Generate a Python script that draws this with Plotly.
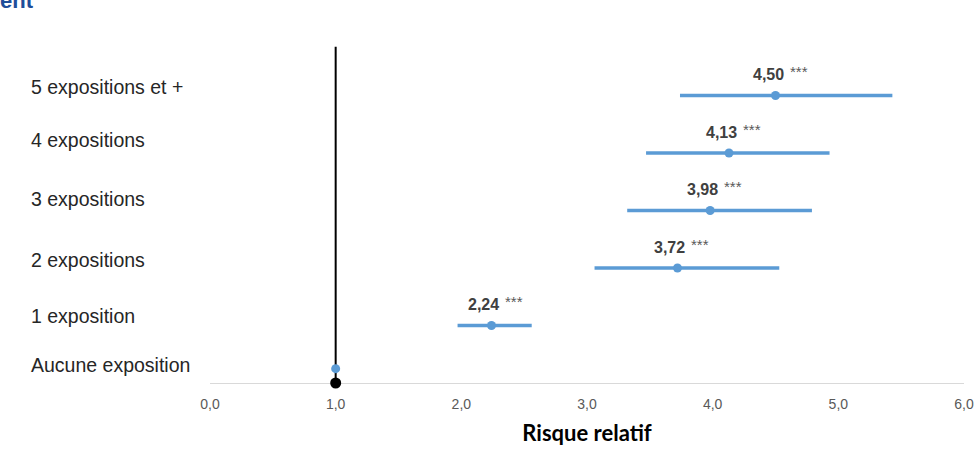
import plotly.graph_objects as go

# Relative risk by number of exposures, with 95% confidence intervals
categories = ["Aucune exposition", "1 exposition", "2 expositions",
              "3 expositions", "4 expositions", "5 expositions et +"]
rr = [1.00, 2.24, 3.72, 3.98, 4.13, 4.50]
ci_low = [1.00, 1.97, 3.06, 3.32, 3.47, 3.74]
ci_high = [1.00, 2.56, 4.53, 4.79, 4.93, 5.43]
signif = ["", "***", "***", "***", "***", "***"]
x_ticks = [0, 1, 2, 3, 4, 5, 6]

# vertical placement of each row and of its text label
row_y = [0.25, 1, 2, 3, 4, 5]
label_y = [0.31, 1.16, 2.14, 3.20, 4.23, 5.15]

W, H = 976, 462
BLUE = "#5B9BD5"

fig = go.Figure()

# reference line at RR = 1
fig.add_trace(go.Scatter(
    x=[1, 1], y=[0, 5.85], mode="lines",
    line=dict(color="black", width=2), hoverinfo="skip", showlegend=False))

# estimates with confidence intervals (the reference row has no interval)
fig.add_trace(go.Scatter(
    x=rr, y=row_y, mode="markers",
    marker=dict(color=BLUE, size=9),
    error_x=dict(type="data", symmetric=False,
                 array=[h - r for h, r in zip(ci_high, rr)],
                 arrayminus=[r - l for r, l in zip(rr, ci_low)],
                 color=BLUE, thickness=3.5, width=0),
    cliponaxis=False, showlegend=False))

# reference point on the axis
fig.add_trace(go.Scatter(
    x=[1], y=[0], mode="markers",
    marker=dict(color="black", size=11), cliponaxis=False, showlegend=False))

annotations = []
for cat, ly in zip(categories, label_y):
    annotations.append(dict(
        text=cat, xref="paper", yref="y", x=29 / W, y=ly,
        xanchor="left", yanchor="middle", showarrow=False,
        font=dict(family="Liberation Sans, Arial", size=19.5, color="#262626")))

for v, s, ry in zip(rr, signif, row_y):
    if not s:
        continue
    num = f"{v:.2f}".replace(".", ",")
    annotations.append(dict(
        text=f"<b>{num}</b>", x=v, y=ry, xref="x", yref="y",
        xanchor="right", yanchor="middle", xshift=10, yshift=21,
        showarrow=False,
        font=dict(family="Liberation Sans, Arial", size=16, color="#404040")))
    annotations.append(dict(
        text=s, x=v, y=ry, xref="x", yref="y",
        xanchor="left", yanchor="middle", xshift=12, yshift=24,
        showarrow=False,
        font=dict(family="Liberation Sans, Arial", size=15, color="#595959")))

# title, only its end is within the frame
annotations.append(dict(
    text="<b>ent</b>", xref="paper", yref="paper", x=-2 / W, y=1 + 14 / H,
    xanchor="left", yanchor="top", showarrow=False,
    font=dict(family="Liberation Sans, Arial", size=22, color="#1F4E99")))

fig.update_layout(
    width=W, height=H,
    margin=dict(l=0, r=0, t=0, b=0, autoexpand=False),
    paper_bgcolor="white", plot_bgcolor="white",
    separators=", ",
    annotations=annotations,
    xaxis=dict(
        domain=[210 / W, 964 / W], range=[0, 6], automargin=False,
        tickvals=x_ticks, tickformat=".1f", layer="below traces",
        showgrid=False, zeroline=False,
        showline=True, linecolor="#D9D9D9", linewidth=1,
        ticks="", ticklabelstandoff=8,
        tickfont=dict(family="Liberation Sans, Arial", size=14, color="#595959"),
        title=dict(text="<b>Risque relatif</b>", standoff=14,
                   font=dict(family="Lato", size=22, color="black"))),
    yaxis=dict(
        domain=[(H - 383) / H, (H - 38) / H], range=[0, 6], automargin=False,
        visible=False, showgrid=False, zeroline=False),
)

fig.write_html("out.html")
